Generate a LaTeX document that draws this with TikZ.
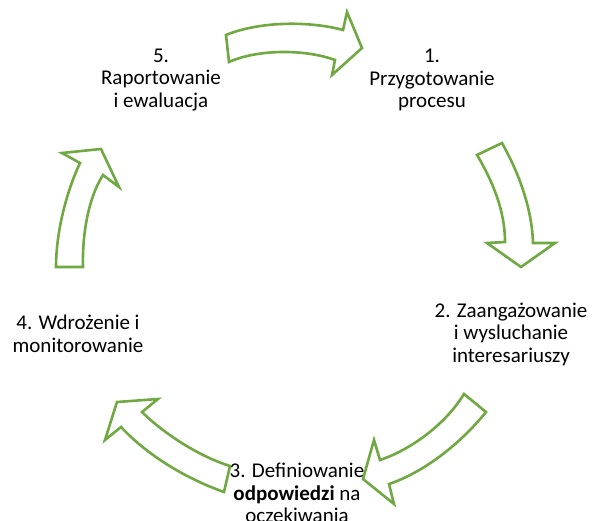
\documentclass[tikz,border=0pt]{standalone}
\usepackage{fontspec}
\setmainfont{Carlito}
\begin{document}
\begin{tikzpicture}[x=1pt,y=-1pt,
  blockarrow/.style={draw=arrowgreen,line width=2.6pt,line join=miter,fill=white},
  stage/.style={align=center,font=\fontsize{21}{22.5}\selectfont,inner sep=0pt,text=black}]
\definecolor{arrowgreen}{RGB}{112,168,66}
\useasboundingbox (0,0) rectangle (592,520);
\clip (0,0) rectangle (592,520);

% stage labels
\node[stage] (s5) at (161,80) {5.\\Raportowanie\\i ewaluacja};
\node[stage] (s1) at (432,80) {1.\\Przygotowanie\\procesu};
\node[stage] (s2) at (511,334) {2. Zaangażowanie\\i wysluchanie\\interesariuszy};
\node[stage] (s3) at (297,493) {3. Definiowanie\\\textbf{odpowiedzi} na\\oczekiwania};
\node[stage] (s4) at (78,334) {4. Wdrożenie i\\monitorowanie};

% curved block arrows between the stages
% 5 -> 1
\draw[blockarrow] (226,35) .. controls (260,21) and (310,21) .. (343,30)
  -- (347,12) -- (362,48) -- (332,75) -- (335,60)
  .. controls (305,49) and (258,49) .. (229,62) -- cycle;
% 1 -> 2
\draw[blockarrow] (502,143) .. controls (520,175) and (532,210) .. (533,243)
  -- (555,243) -- (521,267) -- (487,243) -- (505,242)
  .. controls (505,210) and (492,180) .. (477,155) -- cycle;
% 2 -> 3
\draw[blockarrow] (486,412) .. controls (462,442) and (425,472) .. (389,484)
  -- (394,504) -- (363,479) -- (374,440) -- (380,460)
  .. controls (410,450) and (445,425) .. (464,394) -- cycle;
% 3 -> 4
\draw[blockarrow] (230,466) .. controls (195,455) and (160,430) .. (142,412)
  -- (158,399) -- (117,402) -- (105,440) -- (121,427)
  .. controls (150,458) and (190,480) .. (224,492) -- cycle;
% 4 -> 5
\draw[blockarrow] (83,267) .. controls (82,230) and (90,195) .. (103,175)
  -- (119,187) -- (101,149) -- (62,153) -- (80,163)
  .. controls (65,195) and (56,235) .. (56,267) -- cycle;
\end{tikzpicture}
\end{document}
